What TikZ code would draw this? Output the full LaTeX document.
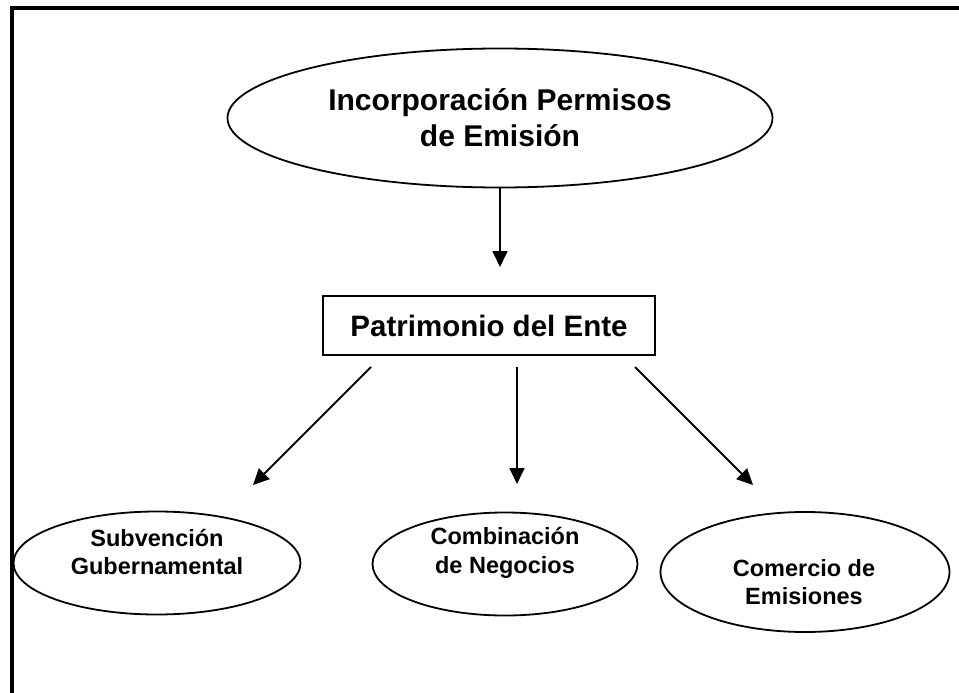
\documentclass[tikz,border=0pt]{standalone}
\usepackage{fontspec}
\setmainfont{Liberation Sans}
\usetikzlibrary{arrows.meta,shapes,positioning}
\tikzset{
    basic/.style  = {draw, black, line width=1.8pt, inner sep=0pt, align=center},
    root/.style   = {basic, ellipse, minimum width=545pt, minimum height=139pt,
                     font=\bfseries\fontsize{30}{36}\selectfont},
    caja/.style   = {basic, rectangle, line width=2.4pt, minimum width=332pt, minimum height=59pt,
                     font=\bfseries\fontsize{29.5}{35}\selectfont},
    hoja/.style   = {basic, ellipse, minimum height=103pt},
    texto/.style  = {inner sep=0pt, align=center, font=\bfseries\fontsize{23.5}{28.5}\selectfont},
    flecha/.style = {-{Triangle[length=16pt,width=15pt]}, line width=1.8pt}
}
\begin{document}
\begin{tikzpicture}[x=1pt,y=-1pt]
	\useasboundingbox (0,0) rectangle (959,693);
	% marco
	\draw[line width=4pt] (12,693) -- (12,8) -- (959,8);

	\node[root] (incorp) at (500,118) {Incorporación Permisos\\de Emisión};
	\node[caja] (patrimonio) at (489,325.5) {Patrimonio del Ente};

	\node[hoja, minimum width=287pt] (subvencion) at (157,563) {};
	\node[hoja, minimum width=265pt] (combinacion) at (505,564) {};
	\node[hoja, minimum width=289pt, minimum height=120pt] (comercio) at (805,572) {};

	\node[texto] (subvencion txt) at (157,552) {Subvención\\Gubernamental};
	\node[texto] (combinacion txt) at (505,553) {Combinación\\de Negocios};
	\node[texto] (comercio txt) at (804,582) {Comercio de\\Emisiones};

	% extremos de las flechas
	\coordinate (t0) at (500,267);
	\coordinate (a1) at (371,367);
	\coordinate (a2) at (517,367);
	\coordinate (a3) at (635,367);
	\coordinate (b1) at (253,485);
	\coordinate (b2) at (517,484);
	\coordinate (b3) at (753,485);

	\draw[flecha] (incorp.south) -- (t0);
	\foreach \i in {1,2,3}
		\draw[flecha] (a\i) -- (b\i);
\end{tikzpicture}
\end{document}
